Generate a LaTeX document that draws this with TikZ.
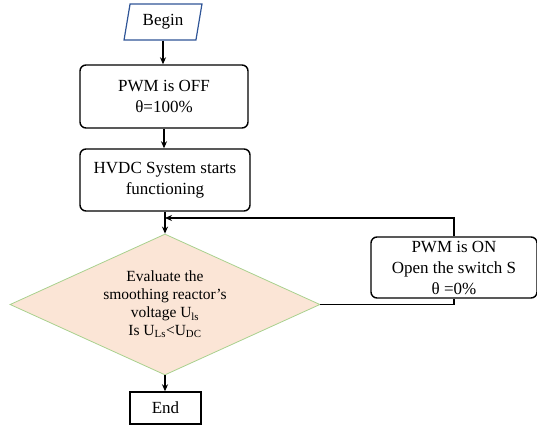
\documentclass[tikz,border=0pt]{standalone}
\usepackage{fontspec}
\setmainfont{Liberation Serif}
\usetikzlibrary{shapes.geometric,arrows.meta}
\definecolor{startblue}{HTML}{2F5597}
\definecolor{decfill}{HTML}{FBE5D6}
\definecolor{decline}{HTML}{A9D18E}
\tikzset{
  flowarrow/.style={-{Stealth[length=7pt,width=6pt]}, line width=1.4pt},
  flowline/.style={line width=1.4pt},
  procbox/.style={draw, line width=1.4pt, rounded corners=6pt, align=center,
    font=\fontsize{17}{21}\selectfont, inner sep=0pt},
  endbox/.style={draw, line width=1.4pt, align=center,
    font=\fontsize{17}{21}\selectfont, inner sep=0pt},
  startshape/.style={trapezium, trapezium left angle=76, trapezium right angle=104,
    trapezium stretches=true, draw=startblue, line width=1.2pt,
    font=\fontsize{17}{21}\selectfont, inner sep=0pt},
  decision/.style={diamond, draw=decline, fill=decfill, line width=0.8pt,
    aspect=2.2, inner sep=1pt, align=center,
    font=\fontsize{15.5}{18}\selectfont}
}
\begin{document}
\begin{tikzpicture}[x=1pt,y=-1pt]
  \useasboundingbox (0,0) rectangle (537,427);

  \node[startshape, minimum width=78pt, minimum height=36pt] (begin) at (163,22) {Begin};
  \node[procbox, minimum width=168pt, minimum height=63pt] (off) at (164,96.5)
    {PWM is OFF\\θ=100\%};
  \node[procbox, minimum width=170pt, minimum height=62pt] (hvdc) at (165,180)
    {HVDC System starts\\functioning};
  \node[decision, minimum width=310pt, minimum height=141pt] (eval) at (165,304.5)
    {Evaluate the\\smoothing reactor’s\\voltage U\textsubscript{ls}\\Is U\textsubscript{Ls}<U\textsubscript{DC}};
  \node[endbox, minimum width=71pt, minimum height=32pt] (end) at (165.5,408) {End};
  \node[procbox, minimum width=166pt, minimum height=61pt] (on) at (454,267.5)
    {PWM is ON\\Open the switch S\\θ =0\%};

  \coordinate (join) at (165,218);

  \draw[flowarrow] (begin.south) -- (off.north -| begin.south);
  \draw[flowarrow] (off.south) -- (hvdc.north -| off.south);
  \draw[flowarrow] (hvdc.south) -- (eval.north);
  \draw[flowarrow] (eval.south) -- (end.north -| eval.south);

  % loop back: decision -> switching branch -> re-evaluation
  \draw[flowline] (eval.east) -| (on.south);
  \draw[flowarrow] (on.north) |- (join);
\end{tikzpicture}
\end{document}
